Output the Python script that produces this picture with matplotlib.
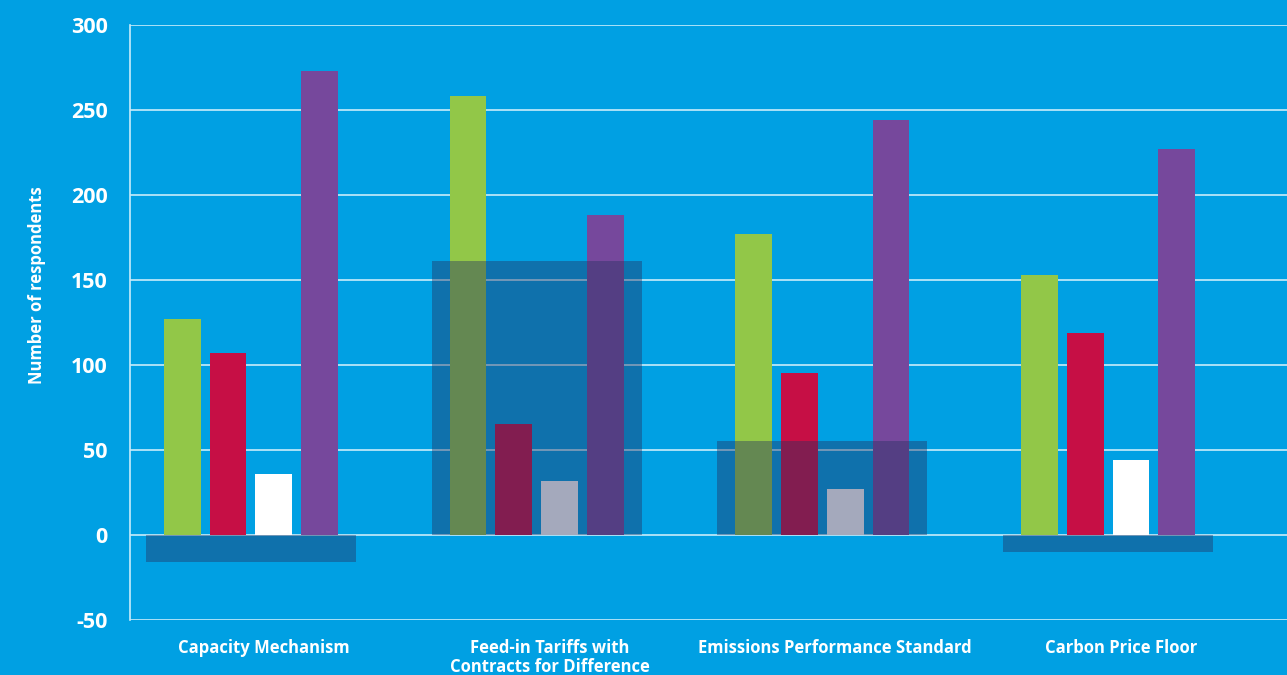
import matplotlib.pyplot as plt
import numpy as np

categories = ['Capacity Mechanism', 'Feed-in Tariffs with\nContracts for Difference',
              'Emissions Performance Standard', 'Carbon Price Floor']
green_vals = [127, 258, 177, 153]
red_vals = [107, 65, 95, 119]
white_vals = [36, 32, 27, 44]
purple_vals = [273, 188, 244, 227]
net_vals = [-16, 161, 55, -10]

bg = '#00a0e3'
plt.rcParams['font.family'] = ['Open Sans', 'DejaVu Sans']
plt.rcParams['axes.unicode_minus'] = False

fig = plt.figure(figsize=(12.87, 6.75), dpi=100, facecolor=bg)
ax = fig.add_axes([0.101, 0.0815, 0.899, 0.8815], facecolor=bg)

x = np.arange(len(categories))
bar_width = 0.129
pitch = 0.16

series = [(green_vals, '#92c748'), (red_vals, '#c60f45'),
          (white_vals, '#ffffff'), (purple_vals, '#76489c')]
for i, (vals, col) in enumerate(series):
    ax.bar(x + (i - 1.5) * pitch, vals, width=bar_width, color=col, zorder=2)

# translucent net box drawn over the bars
ax.bar(x, net_vals, width=0.735, color='#263261', alpha=0.42, zorder=3)

ax.set_xlim(-0.423, 3.626)
ax.set_ylim(-50, 300)
ax.set_yticks(np.arange(-50, 301, 50))
ax.yaxis.grid(True, color='#c8ecfa', linewidth=1.2, zorder=0)
ax.set_axisbelow(True)

for s in ['top', 'right', 'bottom']:
    ax.spines[s].set_visible(False)
ax.spines['left'].set_color('#c8ecfa')
ax.spines['left'].set_linewidth(1.2)

ax.tick_params(axis='y', length=0, pad=16, labelsize=15.5, labelcolor='white')
ax.tick_params(axis='x', length=0, pad=14, labelsize=12, labelcolor='white')
for lab in ax.get_yticklabels():
    lab.set_fontweight('bold')

ax.set_xticks(x + 0.045)
ax.set_xticklabels(categories, fontweight='bold', linespacing=1.05, va='top')

ax.set_ylabel('Number of respondents', color='white', fontsize=12,
              fontweight='bold')
ax.yaxis.set_label_coords(-0.073, 0.563)

plt.savefig('out.png', dpi=100, facecolor=bg)
